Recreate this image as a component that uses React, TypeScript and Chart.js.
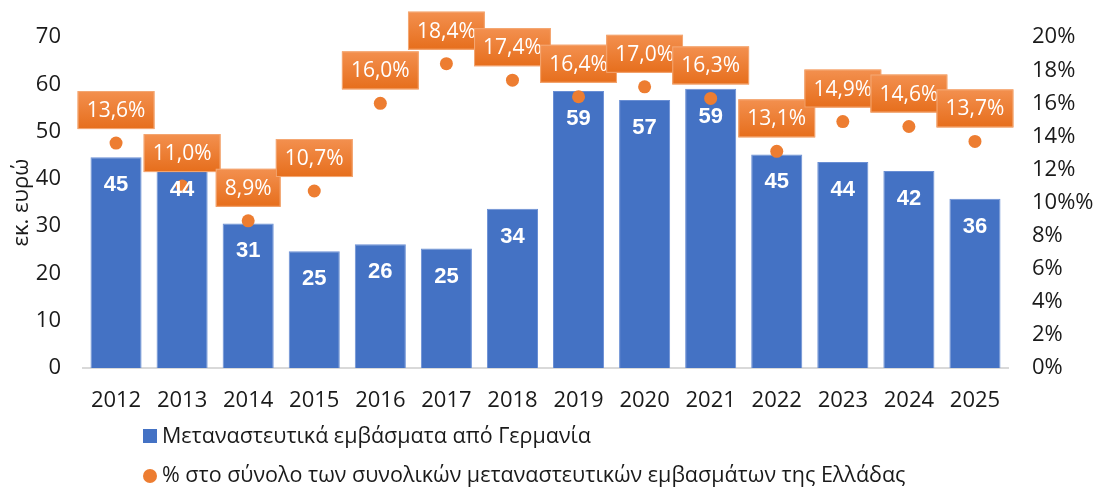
import React, { useEffect, useRef } from 'react';
import { Chart, registerables } from 'chart.js';

Chart.register(...registerables);

const years = ['2012', '2013', '2014', '2015', '2016', '2017', '2018', '2019', '2020', '2021', '2022', '2023', '2024', '2025'];
const remittances = [44.6, 43.6, 30.6, 24.7, 26.2, 25.3, 33.7, 58.6, 56.7, 59.1, 45.2, 43.6, 41.7, 35.8];
const shares = [13.6, 11.0, 8.9, 10.7, 16.0, 18.4, 17.4, 16.4, 17.0, 16.3, 13.1, 14.9, 14.6, 13.7];
const rightTickLabels = ['0%', '2%', '4%', '6%', '8%', '10%%', '12%', '14%', '16%', '18%', '20%'];
const barLabel = 'Μεταναστευτικά εμβάσματα από Γερμανία';
const dotLabel = '% στο σύνολο των συνολικών μεταναστευτικών εμβασμάτων της Ελλάδας';
const yTitle = 'εκ. ευρώ';

const FONT = '"Open Sans", "Liberation Sans", Arial, sans-serif';
const BOLD_FONT = '"Liberation Sans", Arial, sans-serif';
const BLUE = '#4472C4';
const ORANGE = '#ED7D31';
const TEXT = '#1a1a1a';

const labelsPlugin = {
  id: 'customLabels',
  afterDatasetsDraw(chart: any) {
    const ctx = chart.ctx;
    ctx.save();
    const barMeta = chart.getDatasetMeta(1);
    ctx.font = `bold 22px ${BOLD_FONT}`;
    ctx.fillStyle = '#ffffff';
    ctx.textAlign = 'center';
    ctx.textBaseline = 'middle';
    barMeta.data.forEach((el: any, i: number) => {
      ctx.fillText(String(Math.round(remittances[i])), el.x, el.y + 28);
    });
    const dotMeta = chart.getDatasetMeta(0);
    ctx.font = `21px ${FONT}`;
    dotMeta.data.forEach((el: any, i: number) => {
      const text = shares[i].toFixed(1).replace('.', ',') + '%';
      const w = ctx.measureText(text).width + 18;
      const h = 38;
      const cx = el.x;
      const cy = el.y - 33;
      const x0 = cx - w / 2;
      const y0 = cy - h / 2;
      const g = ctx.createLinearGradient(0, y0, 0, y0 + h);
      g.addColorStop(0, '#F3904F');
      g.addColorStop(1, '#E66E1C');
      ctx.fillStyle = g;
      ctx.fillRect(x0, y0, w, h);
      ctx.strokeStyle = '#F4A874';
      ctx.lineWidth = 1;
      ctx.strokeRect(x0 + 0.5, y0 + 0.5, w - 1, h - 1);
      ctx.fillStyle = '#ffffff';
      ctx.fillText(text, cx, cy + 1);
    });
    ctx.restore();
  },
  afterDraw(chart: any) {
    const ctx = chart.ctx;
    ctx.save();
    ctx.font = `21.5px ${FONT}`;
    ctx.textAlign = 'left';
    ctx.textBaseline = 'middle';
    ctx.fillStyle = BLUE;
    ctx.fillRect(143, 429, 14, 14);
    ctx.fillStyle = TEXT;
    ctx.fillText(barLabel, 162, 437);
    ctx.fillStyle = ORANGE;
    ctx.beginPath();
    ctx.arc(150, 476, 7, 0, Math.PI * 2);
    ctx.fill();
    ctx.fillStyle = TEXT;
    ctx.fillText(dotLabel, 162, 476);
    ctx.restore();
  },
};

export default function App() {
  const ref = useRef<HTMLCanvasElement | null>(null);
  useEffect(() => {
    if (!ref.current) return;
    const chart = new Chart(ref.current, {
      type: 'bar',
      data: {
        labels: years,
        datasets: [
          {
            type: 'line',
            label: dotLabel,
            data: shares,
            yAxisID: 'y1',
            showLine: false,
            pointRadius: 6.5,
            pointBackgroundColor: ORANGE,
            pointBorderColor: ORANGE,
            pointBorderWidth: 0,
            order: 0,
          } as any,
          {
            type: 'bar',
            label: barLabel,
            data: remittances,
            yAxisID: 'y',
            backgroundColor: BLUE,
            borderColor: '#6a8fd4',
            borderWidth: 1,
            categoryPercentage: 1,
            barPercentage: 0.773,
            order: 1,
          },
        ],
      },
      options: {
        responsive: false,
        animation: false,
        layout: { padding: { top: 33, bottom: 0, left: 0, right: 0 } },
        plugins: { legend: { display: false }, tooltip: { enabled: false } },
        scales: {
          x: {
            grid: { display: false, drawTicks: false },
            border: { display: true, color: '#d9d9d9', width: 2 },
            ticks: { color: TEXT, font: { family: FONT, size: 22 }, padding: 20, maxRotation: 0, autoSkip: false },
            afterFit: (s: any) => { s.height = 122; },
          },
          y: {
            position: 'left',
            min: 0,
            max: 70,
            grid: { display: false, drawTicks: false },
            border: { display: false },
            ticks: { stepSize: 10, color: TEXT, font: { family: FONT, size: 22 }, padding: 22 },
            title: { display: true, text: yTitle, color: TEXT, font: { family: FONT, size: 22 }, padding: { top: 9, bottom: 0 } },
            afterFit: (s: any) => { s.width = 83; },
          },
          y1: {
            position: 'right',
            min: 0,
            max: 20,
            grid: { display: false, drawTicks: false },
            border: { display: false },
            ticks: {
              stepSize: 2,
              color: TEXT,
              font: { family: FONT, size: 22 },
              padding: 24,
              callback: (_v: any, i: number) => rightTickLabels[i],
            },
            afterFit: (s: any) => { s.width = 90; },
          },
        },
      },
      plugins: [labelsPlugin],
    });
    return () => chart.destroy();
  }, []);
  return (
    <div style={{ position: 'fixed', left: 0, top: 0, width: 1098, height: 490, background: '#fff' }}>
      <canvas ref={ref} width={1098} height={490} style={{ display: 'block' }} />
    </div>
  );
}
